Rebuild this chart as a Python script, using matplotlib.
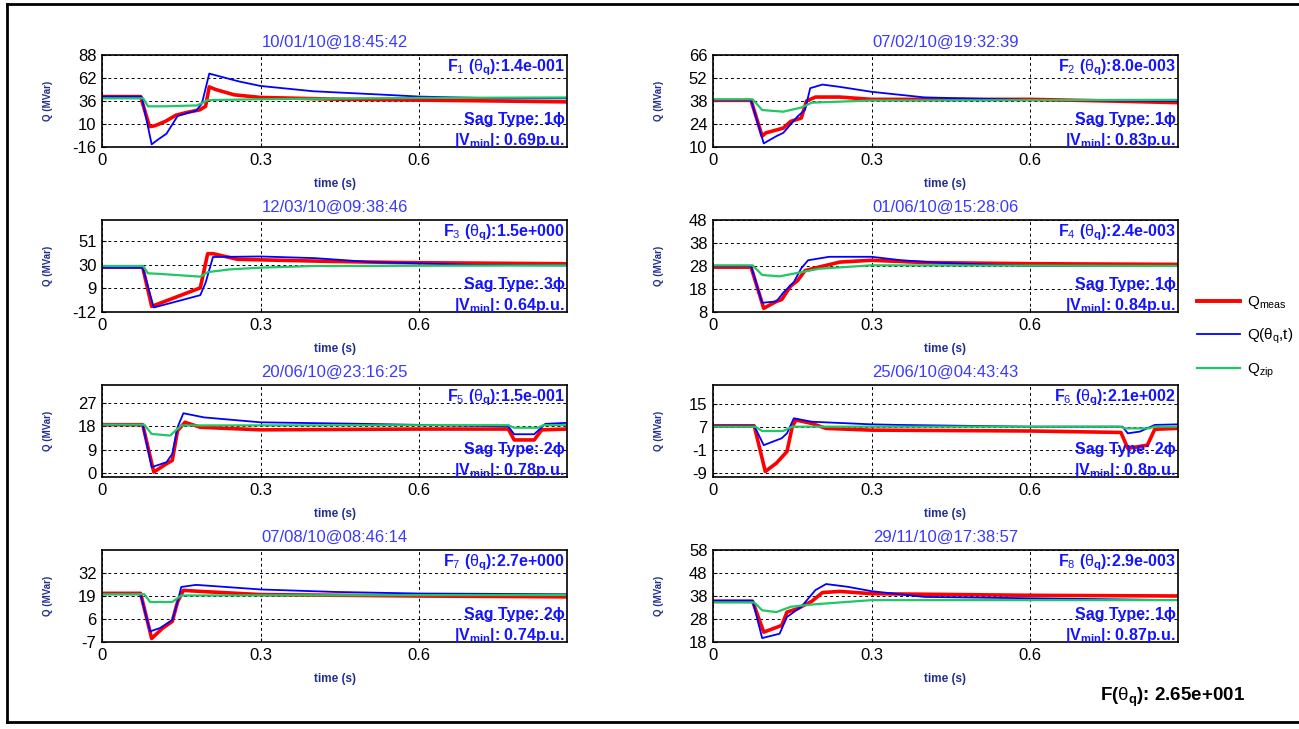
import matplotlib
matplotlib.use('Agg')
import matplotlib.pyplot as plt
from matplotlib.lines import Line2D
import numpy as np

plt.rcParams['font.family'] = ['Liberation Sans', 'DejaVu Sans']
plt.rcParams['mathtext.fontset'] = 'custom'
plt.rcParams['mathtext.rm'] = 'Liberation Sans'
plt.rcParams['mathtext.it'] = 'Liberation Sans'
plt.rcParams['mathtext.bf'] = 'Liberation Sans:bold'
plt.rcParams['axes.unicode_minus'] = False

# event info
dates = ['10/01/10@18:45:42', '07/02/10@19:32:39', '12/03/10@09:38:46', '01/06/10@15:28:06',
         '20/06/10@23:16:25', '25/06/10@04:43:43', '07/08/10@08:46:14', '29/11/10@17:38:57']
f_values = ['1.4e-001', '8.0e-003', '1.5e+000', '2.4e-003', '1.5e-001', '2.1e+002', '2.7e+000', '2.9e-003']
sag_types = ['1', '1', '3', '1', '2', '2', '2', '1']
v_mins = ['0.69', '0.83', '0.64', '0.84', '0.78', '0.8', '0.74', '0.87']
f_total = '2.65e+001'

y_limits = [(-16, 88), (10, 66), (-12, 70), (8, 48), (-1.5, 34), (-10.4, 21.4), (-7, 45), (18, 58)]
y_ticks = [[-16, 10, 36, 62, 88], [10, 24, 38, 52, 66], [-12, 9, 30, 51], [8, 18, 28, 38, 48],
           [0, 9, 18, 27], [-9, -1, 7, 15], [-7, 6, 19, 32], [18, 28, 38, 48, 58]]
x_ticks = [0, 0.3, 0.6]

# (time s, Q MVar)
meas1 = [(0, 41), (0.073, 41), (0.09, 7), (0.10, 8), (0.12, 13), (0.14, 20), (0.16, 23), (0.185, 26), (0.196, 30),
         (0.203, 52), (0.215, 49), (0.25, 43), (0.3, 40), (0.45, 38), (0.6, 37), (0.75, 36), (0.88, 35)]
model1 = [(0, 41), (0.075, 41), (0.094, -13), (0.105, -8), (0.122, -1), (0.143, 19), (0.165, 23), (0.178, 25),
          (0.189, 33), (0.203, 67), (0.228, 63), (0.26, 58), (0.3, 53), (0.4, 47), (0.537, 43), (0.6, 41),
          (0.75, 39), (0.88, 39)]
zip1 = [(0, 39), (0.078, 39), (0.087, 30), (0.12, 30), (0.18, 31), (0.2, 37), (0.3, 38), (0.6, 39.5), (0.88, 40)]

meas2 = [(0, 38.4), (0.072, 38.4), (0.093, 16.6), (0.1, 18.6), (0.133, 21.5), (0.147, 25.6), (0.167, 27.6),
         (0.177, 38), (0.194, 40.4), (0.24, 40.4), (0.3, 39), (0.6, 39), (0.75, 38), (0.88, 37)]
model2 = [(0, 38.5), (0.072, 38.5), (0.096, 12.2), (0.12, 16.6), (0.133, 18.6), (0.16, 28.6), (0.174, 32.6),
          (0.184, 45.8), (0.207, 48), (0.24, 46.6), (0.3, 43.6), (0.4, 40.2), (0.6, 38.6), (0.88, 38)]
zip2 = [(0, 39), (0.075, 39), (0.093, 32.5), (0.133, 31.5), (0.167, 34), (0.187, 37), (0.3, 38.3), (0.88, 38.7)]

meas3 = [(0, 28), (0.077, 28), (0.094, -7), (0.186, 9.5), (0.2, 40), (0.21, 40), (0.256, 35), (0.3, 34.5),
         (0.44, 33), (0.58, 32), (0.88, 31)]
model3 = [(0, 27.5), (0.077, 27.5), (0.098, -8), (0.186, 3), (0.196, 14), (0.21, 37), (0.3, 37.5), (0.403, 36),
          (0.509, 32.5), (0.7, 30), (0.88, 29.5)]
zip3 = [(0, 29), (0.078, 29), (0.087, 22.5), (0.108, 22), (0.186, 19.5), (0.2, 23.5), (0.242, 26), (0.3, 27.5),
        (0.4, 29), (0.88, 29.5)]

meas4 = [(0, 27.5), (0.072, 27.5), (0.096, 9.6), (0.12, 12.6), (0.13, 13.4), (0.147, 19.3), (0.16, 21.6),
         (0.174, 26), (0.2, 27.5), (0.24, 29.7), (0.3, 30.5), (0.4, 29.5), (0.6, 29), (0.88, 28.7)]
model4 = [(0, 28), (0.072, 28), (0.093, 12), (0.12, 12.6), (0.133, 16.4), (0.153, 21), (0.167, 27), (0.18, 30.5),
          (0.22, 32), (0.3, 32), (0.356, 30.5), (0.437, 29.3), (0.6, 28), (0.88, 28)]
zip4 = [(0, 28.3), (0.075, 28.3), (0.093, 24.1), (0.126, 23.5), (0.16, 25), (0.2, 26.8), (0.3, 28.3), (0.88, 28)]

meas5 = [(0, 18.7), (0.077, 18.7), (0.098, 0.4), (0.122, 3.6), (0.133, 4.9), (0.143, 16.4), (0.157, 19.6),
         (0.186, 17.7), (0.3, 16.7), (0.6, 17), (0.769, 17), (0.78, 12.8), (0.818, 12.8), (0.832, 16.7), (0.88, 17)]
model5 = [(0, 18.7), (0.077, 18.7), (0.094, 2.3), (0.122, 4.2), (0.133, 7.4), (0.143, 17.7), (0.154, 23.1),
          (0.193, 21.5), (0.3, 19.6), (0.495, 19), (0.769, 18), (0.78, 15), (0.818, 15), (0.839, 19), (0.88, 19.4)]
zip5 = [(0, 18.7), (0.08, 18.7), (0.094, 15.1), (0.129, 14.5), (0.15, 18.4), (0.769, 18.5), (0.78, 17.5),
        (0.825, 17.5), (0.835, 18.5), (0.88, 18.5)]

meas6 = [(0, 7.3), (0.078, 7.3), (0.099, -8.5), (0.12, -5.6), (0.14, -1.6), (0.15, 7), (0.157, 9.3), (0.187, 8.1),
         (0.214, 6.4), (0.3, 5.8), (0.6, 5.5), (0.772, 5), (0.785, -0.5), (0.822, 0.6), (0.836, 6.1), (0.88, 6.4)]
model6 = [(0, 7.3), (0.078, 7.3), (0.096, 0.6), (0.13, 3), (0.14, 4.7), (0.153, 9.9), (0.187, 8.7), (0.3, 7.8),
          (0.35, 7.6), (0.6, 7), (0.775, 7), (0.785, 4.7), (0.808, 5.3), (0.836, 7.6), (0.88, 7.8)]
zip6 = [(0, 7), (0.08, 7), (0.093, 5.5), (0.133, 5.5), (0.15, 7), (0.77, 7), (0.78, 6.4), (0.825, 6.4),
        (0.835, 7), (0.88, 7)]

meas7 = [(0, 20.5), (0.073, 20.5), (0.094, -5), (0.115, 0.9), (0.133, 4.6), (0.143, 15.7), (0.154, 22.2),
         (0.186, 21.6), (0.3, 19.8), (0.6, 19), (0.88, 18.5)]
model7 = [(0, 20), (0.073, 20), (0.091, -1), (0.11, 0.9), (0.133, 5.5), (0.143, 15.7), (0.15, 24.1),
          (0.178, 25.3), (0.3, 22.7), (0.44, 21.3), (0.6, 20.4), (0.88, 20)]
zip7 = [(0, 20), (0.08, 20), (0.091, 15.6), (0.133, 15.6), (0.15, 19.3), (0.88, 19.6)]

meas8 = [(0, 35.7), (0.075, 35.7), (0.096, 22.3), (0.13, 25.2), (0.14, 31), (0.16, 32.5), (0.187, 35.7),
         (0.207, 39.5), (0.24, 40), (0.3, 39), (0.6, 38.3), (0.88, 38)]
model8 = [(0, 36), (0.075, 36), (0.093, 19.7), (0.126, 21.6), (0.14, 28.9), (0.167, 33.3), (0.194, 40.6),
          (0.214, 43.2), (0.255, 42), (0.3, 40.1), (0.4, 37.6), (0.88, 36.2)]
zip8 = [(0, 35.2), (0.078, 35.2), (0.093, 31.8), (0.12, 31), (0.147, 33.3), (0.187, 34.3), (0.3, 36.2), (0.88, 36.2)]

meas = [meas1, meas2, meas3, meas4, meas5, meas6, meas7, meas8]
models = [model1, model2, model3, model4, model5, model6, model7, model8]
zips = [zip1, zip2, zip3, zip4, zip5, zip6, zip7, zip8]

RED = '#ff0000'
BLUE = '#0000ff'
GREEN = '#1ec864'
TXT_BLUE = '#1414ff'
TITLE_BLUE = '#3a3aff'
LBL_BLUE = '#22308c'

fig = plt.figure(figsize=(12.99, 7.29), dpi=100)

W, H = 1299.0, 729.0
lefts = [102, 713]
width = 465
height = 92

for i in range(8):
    row, col = i // 2, i % 2
    top = 55 + 165 * row
    ax = fig.add_axes([lefts[col] / W, 1 - (top + height) / H, width / W, height / H])
    m = np.array(meas[i])
    q = np.array(models[i])
    z = np.array(zips[i])
    ax.plot(m[:, 0], m[:, 1], color=RED, lw=2.6)
    ax.plot(q[:, 0], q[:, 1], color=BLUE, lw=1.3)
    ax.plot(z[:, 0], z[:, 1], color=GREEN, lw=1.6)
    ax.set_xlim(0, 0.88)
    ax.set_ylim(*y_limits[i])
    ax.set_xticks(x_ticks)
    ax.set_xticklabels(['0', '0.3', '0.6'])
    ax.set_yticks(y_ticks[i])
    ax.tick_params(direction='in', length=3, labelsize=12, pad=4)
    ax.grid(True, color='black', linestyle=(0, (3, 3)), lw=0.7)
    for s in ax.spines.values():
        s.set_linewidth(1.2)
    ax.set_title(dates[i], color=TITLE_BLUE, fontsize=12, pad=6)
    ax.set_xlabel('time (s)', color=LBL_BLUE, fontsize=8.5, fontweight='bold')
    ax.set_ylabel('Q (MVar)', color=LBL_BLUE, fontsize=7, fontweight='bold')
    ax.xaxis.set_label_coords(0.5, -0.34)
    ax.yaxis.set_label_coords(-0.105, 0.5)
    ax.text(0.995, 0.97, r'F$_{%d}$ ($\theta_\mathbf{q}$):%s' % (i + 1, f_values[i]),
            transform=ax.transAxes, ha='right', va='top', color=TXT_BLUE, fontsize=11.5, fontweight='bold')
    ax.text(0.995, 0.30, 'Sag Type: %s\u03d5' % sag_types[i],
            transform=ax.transAxes, ha='right', va='center', color=TXT_BLUE, fontsize=11.5, fontweight='bold')
    ax.text(0.995, 0.07, r'|V$_\mathbf{min}$|: %sp.u.' % v_mins[i],
            transform=ax.transAxes, ha='right', va='center', color=TXT_BLUE, fontsize=11.5, fontweight='bold')

handles = [Line2D([], [], color=RED, lw=2.8), Line2D([], [], color=BLUE, lw=1.3),
           Line2D([], [], color=GREEN, lw=1.6)]
labels = [r'Q$_{meas}$', r'Q($\theta_q$,t)', r'Q$_{zip}$']
fig.legend(handles, labels, loc='center left', bbox_to_anchor=(1183 / W, 1 - 337 / H), frameon=False,
           fontsize=11, handlelength=2.8, labelspacing=1.0, handletextpad=0.5)

fig.text(1245 / W, 1 - 697 / H, r'F($\theta_\mathbf{q}$): %s' % f_total, ha='right', va='center',
         fontsize=13.5, fontweight='bold')

# outer frame
fig.add_artist(Line2D([7 / W, 7 / W], [1 - 4 / H, 1 - 722 / H], color='black', lw=2, transform=fig.transFigure))
fig.add_artist(Line2D([7 / W, 1], [1 - 4 / H, 1 - 4 / H], color='black', lw=2, transform=fig.transFigure))
fig.add_artist(Line2D([7 / W, 1], [1 - 722 / H, 1 - 722 / H], color='black', lw=2, transform=fig.transFigure))

fig.savefig('out.png', dpi=100)
